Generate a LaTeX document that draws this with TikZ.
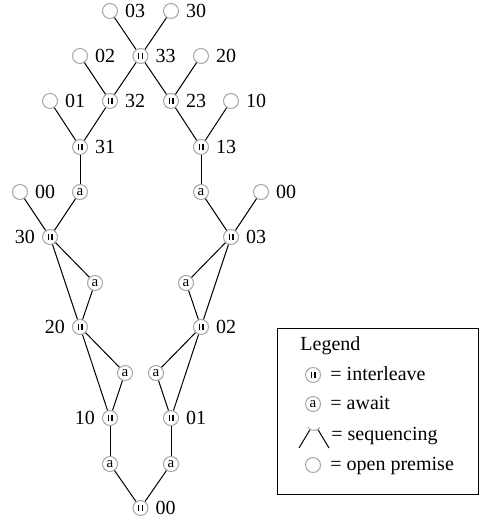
\documentclass[tikz,border=0pt]{standalone}
\usepackage{fontspec}
\setmainfont{Liberation Serif}
\begin{document}
\begin{tikzpicture}[
  x=0.5pt, y=-0.5pt,
  ring/.style={circle, draw=black!35, line width=0.5pt, minimum size=7.5pt, inner sep=0pt},
  prem/.style={ring},
  ileave/.style={ring, path picture={
      \draw[black, line width=0.6pt]
        ([shift={(-0.95pt,-1.6pt)}]path picture bounding box.center) -- ++(0,3.2pt)
        ([shift={(0.95pt,-1.6pt)}]path picture bounding box.center) -- ++(0,3.2pt);}},
  await/.style={ring, font=\fontsize{7.5}{8}\selectfont},
  line/.style={line width=0.5pt},
  keytext/.style={anchor=base west, inner sep=0pt}
]
\useasboundingbox (0,0) rectangle (479,522);
\node[prem, label=right:03]   (o03)  at (110,11)  {};
\node[prem, label=right:30]   (o30)  at (171,11)  {};
\node[ileave, label=right:33] (i33)  at (140.5,56) {};
\node[prem, label=right:02]   (o02)  at (80,56)   {};
\node[prem, label=right:20]   (o20)  at (201,56)  {};
\node[ileave, label=right:32] (i32)  at (110,101) {};
\node[ileave, label=right:23] (i23)  at (171,101) {};
\node[prem, label=right:01]   (o01)  at (50,101)  {};
\node[prem, label=right:10]   (o10)  at (231,101) {};
\node[ileave, label=right:31] (i31)  at (80,147)  {};
\node[ileave, label=right:13] (i13)  at (201,147) {};
\node[prem, label=right:00]   (o00l) at (20,192)  {};
\node[await]                  (a31)  at (80,192)  {a};
\node[await]                  (a13)  at (201,192) {a};
\node[prem, label=right:00]   (o00r) at (261,192) {};
\node[ileave, label=left:30]  (i30)  at (50,237)  {};
\node[ileave, label=right:03] (i03)  at (231,237) {};
\node[await]                  (a30)  at (95,283)  {a};
\node[await]                  (a03)  at (186,283) {a};
\node[ileave, label=left:20]  (i20)  at (80,327)  {};
\node[ileave, label=right:02] (i02)  at (201,327) {};
\node[await]                  (a20)  at (125,373) {a};
\node[await]                  (a02)  at (156,373) {a};
\node[ileave, label=left:10]  (i10)  at (110,418) {};
\node[ileave, label=right:01] (i01)  at (171,418) {};
\node[await]                  (a10)  at (110,464) {a};
\node[await]                  (a01)  at (171,464) {a};
\node[ileave, label=right:00] (i00)  at (140.5,508) {};
\draw[line](i00)--(a10); \draw[line](i00)--(a01);
\draw[line](a10)--(i10); \draw[line](a01)--(i01);
\draw[line](i10)--(i20); \draw[line](i10)--(a20); \draw[line](a20)--(i20);
\draw[line](i01)--(i02); \draw[line](i01)--(a02); \draw[line](a02)--(i02);
\draw[line](i20)--(i30); \draw[line](i20)--(a30); \draw[line](a30)--(i30);
\draw[line](i02)--(i03); \draw[line](i02)--(a03); \draw[line](a03)--(i03);
\draw[line](i30)--(o00l); \draw[line](i30)--(a31); \draw[line](a31)--(i31);
\draw[line](i03)--(o00r); \draw[line](i03)--(a13); \draw[line](a13)--(i13);
\draw[line](i31)--(o01); \draw[line](i31)--(i32);
\draw[line](i13)--(o10); \draw[line](i13)--(i23);
\draw[line](i32)--(o02); \draw[line](i32)--(i33);
\draw[line](i23)--(o20); \draw[line](i23)--(i33);
\draw[line](i33)--(o03); \draw[line](i33)--(o30);
% legend
\draw[line] (277,328) rectangle (478,494);
\node[keytext] (lgd) at (300,350) {Legend};
\node[ileave] (kil) at (313,375) {};
\node[keytext] at (330,380) {= interleave};
\node[await] (kaw) at (313,404) {a};
\node[keytext] at (330,409) {= await};
\node[ring, draw=none] (kseq) at (314,423) {};
\coordinate (kseql) at (299,448);
\coordinate (kseqr) at (329,448);
\draw[black!35, line width=0.5pt] (kseq.center) ++(-145:3.75pt) arc[start angle=-145, end angle=-35, radius=3.75pt];
\draw[line](kseq)--(kseql); \draw[line](kseq)--(kseqr);
\node[keytext] at (331,440) {= sequencing};
\node[prem] (kop) at (313,465) {};
\node[keytext] at (330,470) {= open premise};
\end{tikzpicture}
\end{document}
